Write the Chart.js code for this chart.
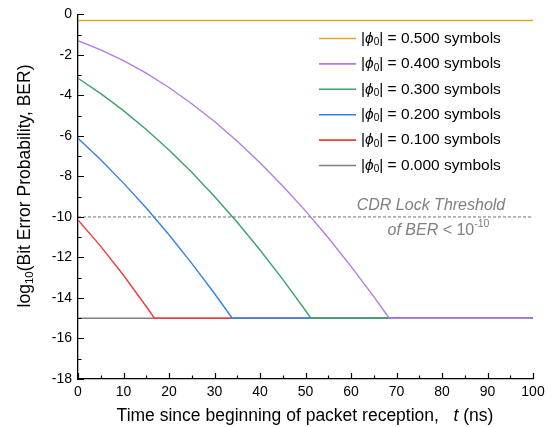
<!DOCTYPE html>
<html>
<head>
<meta charset="utf-8">
<script src="https://cdn.jsdelivr.net/npm/chart.js@4.4.0/dist/chart.umd.min.js"></script>
<style>
  html, body { margin: 0; padding: 0; background: #fff; }
  #wrap { width: 559px; height: 427px; position: relative; }
</style>
</head>
<body>
<div id="wrap"><canvas id="berChart"></canvas></div>
<script>
// phase offsets shown in the legend, top to bottom
const phiValues = ['0.500', '0.400', '0.300', '0.200', '0.100', '0.000'];
const lineColors = ['#d8a630', '#b57be8', '#38a469', '#3482e6', '#f23a3c', '#808080'];

// log10(BER) vs time (ns)
const t050 = [0, 100];
const ber050 = [-0.3, -0.3];
const t040 = [0, 5, 10, 15, 20, 25, 30, 35, 40, 45, 50, 55, 60, 65, 68.4, 100];
const ber040 = [-1.3, -1.75, -2.28, -2.9, -3.61, -4.41, -5.29, -6.26, -7.32, -8.47, -9.7, -11.03, -12.44, -13.93, -15, -15];
const t030 = [0, 5, 10, 15, 20, 25, 30, 35, 40, 45, 50, 51.2, 100];
const ber030 = [-3.15, -3.91, -4.75, -5.68, -6.69, -7.79, -8.99, -10.26, -11.63, -13.08, -14.62, -15, -15];
const t020 = [0, 5, 10, 15, 20, 25, 30, 33.9, 100];
const ber020 = [-6.12, -7.18, -8.33, -9.56, -10.88, -12.29, -13.78, -15, -15];
const t010 = [0, 5, 10, 15, 16.8, 100];
const ber010 = [-10.15, -11.45, -12.88, -14.42, -15, -15];
const t000 = [0, 100];
const ber000 = [-15, -15];

const thresholdT = [0, 100];
const thresholdBer = [-10, -10];

const xTicks = [0, 10, 20, 30, 40, 50, 60, 70, 80, 90, 100];
const yTicks = [0, -2, -4, -6, -8, -10, -12, -14, -16, -18];

const seriesT = [t050, t040, t030, t020, t010, t000];
const seriesBer = [ber050, ber040, ber030, ber020, ber010, ber000];

function toXY(xs, ys) {
  return xs.map((x, i) => ({x: x, y: ys[i]}));
}

const datasets = seriesT.map((ts, i) => ({
  label: phiValues[i],
  data: toXY(ts, seriesBer[i]),
  borderColor: lineColors[i],
  borderWidth: 1.4,
  pointRadius: 0,
  tension: 0,
  fill: false
}));
datasets.push({
  label: 'threshold',
  data: toXY(thresholdT, thresholdBer),
  borderColor: '#707070',
  borderWidth: 1,
  borderDash: [3, 2],
  pointRadius: 0,
  fill: false
});

// draw a run of text pieces (font / baseline shift) one after another
function richWidth(ctx, parts) {
  let w = 0;
  parts.forEach(p => { ctx.font = p.font; w += ctx.measureText(p.text).width; });
  return w;
}
function drawRich(ctx, parts, x, y, align) {
  let w = richWidth(ctx, parts);
  let cx = align === 'center' ? x - w / 2 : (align === 'right' ? x - w : x);
  parts.forEach(p => {
    ctx.font = p.font;
    ctx.fillText(p.text, cx, y + (p.dy || 0));
    cx += ctx.measureText(p.text).width;
  });
}

const FONT = '"Liberation Sans", Arial, sans-serif';

const decorPlugin = {
  id: 'decor',
  afterDraw(chart) {
    const ctx = chart.ctx;
    const xs = chart.scales.x, ys = chart.scales.y;
    const area = chart.chartArea;
    ctx.save();

    // inward tick marks
    ctx.strokeStyle = '#000';
    ctx.lineWidth = 1.2;
    ctx.beginPath();
    for (let v = 0; v <= 100; v += 5) {
      const px = Math.round(xs.getPixelForValue(v)) + 0.5;
      const len = v % 10 === 0 ? 6 : 3.5;
      ctx.moveTo(px, area.bottom);
      ctx.lineTo(px, area.bottom - len);
    }
    for (let v = -18; v <= 0; v++) {
      const py = Math.round(ys.getPixelForValue(v)) + 0.5;
      const len = v % 2 === 0 ? 6 : 3.5;
      ctx.moveTo(area.left, py);
      ctx.lineTo(area.left + len, py);
    }
    ctx.stroke();

    ctx.textBaseline = 'middle';

    // legend
    const legX = 319, legY = 38.5, legStep = 25.4;
    phiValues.forEach((p, i) => {
      const y = legY + i * legStep;
      ctx.strokeStyle = lineColors[i];
      ctx.lineWidth = 1.6;
      ctx.beginPath();
      ctx.moveTo(legX, y);
      ctx.lineTo(legX + 37, y);
      ctx.stroke();
      ctx.fillStyle = '#000';
      drawRich(ctx, [
        {text: '|', font: '15.5px ' + FONT},
        {text: 'ϕ', font: 'italic 15.5px ' + FONT},
        {text: '0', font: '10px ' + FONT, dy: 4},
        {text: '| = ' + p + ' symbols', font: '15.5px ' + FONT}
      ], legX + 42, y, 'left');
    });

    // threshold note
    ctx.fillStyle = '#808080';
    const yTh = ys.getPixelForValue(-10);
    drawRich(ctx, [{text: 'CDR Lock Threshold', font: 'italic 16px ' + FONT}], 431, yTh - 11.5, 'center');
    drawRich(ctx, [
      {text: 'of BER', font: 'italic 16px ' + FONT},
      {text: ' < 10', font: '16px ' + FONT},
      {text: '-10', font: '10.5px ' + FONT, dy: -6}
    ], 438.5, yTh + 13.5, 'center');

    // axis titles
    ctx.fillStyle = '#000';
    drawRich(ctx, [
      {text: 'Time since beginning of packet reception,   ', font: '17.5px ' + FONT},
      {text: 't', font: 'italic 17.5px ' + FONT},
      {text: ' (ns)', font: '17.5px ' + FONT}
    ], 305, 416.5, 'center');

    ctx.translate(25, 186);
    ctx.rotate(-Math.PI / 2);
    drawRich(ctx, [
      {text: 'log', font: '17.5px ' + FONT},
      {text: '10', font: '11.5px ' + FONT, dy: 5},
      {text: '(Bit Error Probability, BER)', font: '17.5px ' + FONT}
    ], 0, 0, 'center');

    ctx.restore();
  }
};

new Chart('berChart', {
  type: 'line',
  data: {datasets: datasets},
  options: {
    responsive: true,
    maintainAspectRatio: false,
    animation: false,
    layout: {padding: {top: 13, right: 26, left: 0, bottom: 0}},
    plugins: {
      legend: {display: false},
      tooltip: {enabled: false}
    },
    scales: {
      x: {
        type: 'linear',
        min: 0,
        max: 100,
        afterBuildTicks: s => { s.ticks = xTicks.map(v => ({value: v})); },
        afterFit: s => { s.height = 48; },
        border: {color: '#000', width: 1.3},
        grid: {drawOnChartArea: false, drawTicks: false},
        ticks: {color: '#000', font: {family: FONT, size: 14}, padding: 5, maxRotation: 0}
      },
      y: {
        type: 'linear',
        min: -18,
        max: 0,
        afterBuildTicks: s => { s.ticks = yTicks.map(v => ({value: v})); },
        afterFit: s => { s.width = 78; },
        border: {color: '#000', width: 1.3},
        grid: {drawOnChartArea: false, drawTicks: false},
        ticks: {color: '#000', font: {family: FONT, size: 14}, padding: 6}
      }
    }
  },
  plugins: [decorPlugin]
});
</script>
</body>
</html>
